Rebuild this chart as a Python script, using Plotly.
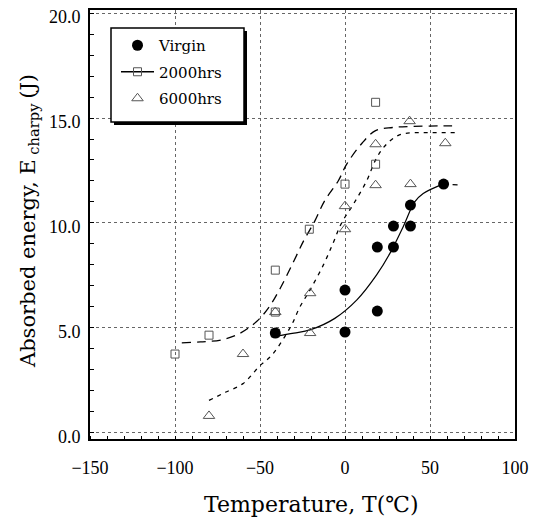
import plotly.graph_objects as go

# ---------------- data ----------------
virgin_T = [-41, 0, 0, 19, 19, 28.5, 28.5, 38.5, 38.5, 58]
virgin_E = [4.75, 6.8, 4.8, 5.8, 8.85, 8.85, 9.85, 9.85, 10.85, 11.85]

h2000_T = [-100, -80, -41, -41, -21, 0, 18, 18, -41]
h2000_E = [3.75, 4.65, 5.75, 7.75, 9.7, 11.85, 12.8, 15.75, 4.75]

h6000_T = [-80, -60, -41, -20.5, -20.5, 0, 0, 18, 18, 38, 38.5, 59]
h6000_E = [0.8, 3.75, 5.75, 4.75, 6.65, 9.7, 10.8, 11.8, 13.75, 14.85, 11.85, 13.8]

# fitted curves
virgin_fit_T = [-41, -30, -20.6, -6, 7, 18.6, 26.5, 34.3, 41, 46, 58]
virgin_fit_E = [4.6, 4.75, 4.9, 5.45, 6.33, 7.52, 8.56, 9.83, 11.0, 11.4, 11.86]
virgin_tail_T = [58, 68]
virgin_tail_E = [11.86, 11.8]

h2000_fit_T = [-96, -85, -73, -62, -52, -45, -38, -30, -24, -18, -12, -4, 1, 10, 18, 28, 40, 63]
h2000_fit_E = [4.28, 4.33, 4.42, 4.73, 5.3, 5.95, 6.9, 8.2, 9.2, 10.05, 11.05, 12.0, 12.8, 13.8, 14.4, 14.55, 14.6, 14.63]

h6000_fit_T = [-80, -70, -60, -50, -43, -32, -26.5, -20.6, -12.7, -7, -2, 5, 12.7, 18.6, 24.5, 32, 40, 50, 65]
h6000_fit_E = [1.54, 1.94, 2.34, 3.2, 3.7, 5.05, 6.0, 6.8, 8.0, 9.04, 10.0, 10.9, 12.0, 13.1, 13.76, 14.2, 14.3, 14.3, 14.3]

x_ticks = [-150, -100, -50, 0, 50, 100]
y_ticks = [0, 5, 10, 15, 20]

# ---------------- figure ----------------
OFF = 8                      # default page margin of the html body
W, H = 541 - OFF, 517 - OFF
ML, MR, MT, MB = 90 - OFF, 26, 10 - OFF, 78
PW, PH = W - ML - MR, H - MT - MB

def px(x_ref):
    return (x_ref - OFF - ML) / PW

def py(y_ref):
    return (H - MB - (y_ref - OFF)) / PH

SERIF = "DejaVu Serif"
TICKF = "Liberation Serif"
GRAY = "#555555"

fig = go.Figure()

# curves
fig.add_trace(go.Scatter(x=h2000_fit_T, y=h2000_fit_E, mode="lines", line_shape="spline",
                         line=dict(color="black", width=1.3, dash="9px,6px"), showlegend=False))
fig.add_trace(go.Scatter(x=h6000_fit_T, y=h6000_fit_E, mode="lines", line_shape="spline",
                         line=dict(color="black", width=1.3, dash="4px,5px"), showlegend=False))
fig.add_trace(go.Scatter(x=virgin_fit_T, y=virgin_fit_E, mode="lines", line_shape="spline",
                         line=dict(color="black", width=1.2), showlegend=False))
fig.add_trace(go.Scatter(x=virgin_tail_T, y=virgin_tail_E, mode="lines",
                         line=dict(color="black", width=1.2, dash="5px,4px"), showlegend=False))

# markers
fig.add_trace(go.Scatter(x=h2000_T, y=h2000_E, mode="markers", showlegend=False,
                         marker=dict(symbol="square-open", size=8, color=GRAY, line=dict(width=1))))
fig.add_trace(go.Scatter(x=h6000_T, y=h6000_E, mode="markers", showlegend=False,
                         marker=dict(symbol="triangle-up-open", size=10, color=GRAY, line=dict(width=1))))
fig.add_trace(go.Scatter(x=virgin_T, y=virgin_E, mode="markers", name="Virgin", legendgroup="a",
                         marker=dict(symbol="circle", size=11, color="black")))

# legend entries
fig.add_trace(go.Scatter(x=[None], y=[None], mode="lines+markers", name="2000hrs", legendgroup="b",
                         line=dict(color="black", width=1.5),
                         marker=dict(symbol="square-open", size=8, color=GRAY, line=dict(width=1))))
fig.add_trace(go.Scatter(x=[None], y=[None], mode="markers", name="6000hrs", legendgroup="c",
                         marker=dict(symbol="triangle-up-open", size=10, color=GRAY, line=dict(width=1))))

# legend box with shadow
shapes = [
    dict(type="rect", xref="paper", yref="paper", x0=px(114), x1=px(247), y0=py(125), y1=py(31),
         fillcolor="black", line=dict(width=0), layer="above"),
    dict(type="rect", xref="paper", yref="paper", x0=px(111), x1=px(244), y0=py(122), y1=py(28),
         fillcolor="white", line=dict(color="black", width=1.5), layer="above"),
]

annotations = [
    dict(text="Absorbed energy, E<sub> charpy </sub>(J)", xref="paper", yref="paper",
         x=px(29), y=py(221), textangle=-90, showarrow=False, xanchor="center", yanchor="middle",
         font=dict(family=SERIF, size=21, color="black")),
    dict(text="Temperature, T(℃)", xref="paper", yref="paper",
         x=px(311), y=py(504), showarrow=False, xanchor="center", yanchor="middle",
         font=dict(family=SERIF, size=22, color="black")),
]

fig.update_layout(
    width=W, height=H,
    margin=dict(l=ML, r=MR, t=MT, b=MB, autoexpand=False),
    paper_bgcolor="white", plot_bgcolor="white",
    shapes=shapes, annotations=annotations,
    legend=dict(x=px(116), y=py(29), xanchor="left", yanchor="top",
                bgcolor="rgba(0,0,0,0)", borderwidth=0, itemwidth=33,
                font=dict(family=SERIF, size=15, color="black"),
                tracegroupgap=4),
)

fig.update_xaxes(range=[-150, 100], tickvals=x_ticks, ticktext=[f"{v}".replace("-", "−") for v in x_ticks],
                 showgrid=True, gridcolor="#666666", griddash="dot", gridwidth=1, automargin=False,
                 showline=True, linecolor="black", linewidth=2, mirror=True,
                 ticks="", zeroline=False, ticklabelstandoff=11, ticklabeloverflow="allow",
                 tickfont=dict(family=TICKF, size=18, color="black"),
                 minor=dict(dtick=10, tick0=0, ticks="inside", ticklen=3, tickcolor="black", showgrid=False))
fig.update_yaxes(range=[-0.3, 20.15], tickvals=y_ticks, ticktext=[f"{v:.1f}" for v in y_ticks],
                 showgrid=True, gridcolor="#666666", griddash="dot", gridwidth=1, automargin=False,
                 showline=True, linecolor="black", linewidth=2, mirror=True,
                 ticks="", zeroline=False, ticklabelstandoff=4, ticklabeloverflow="allow",
                 ticklabelshift=4,
                 tickfont=dict(family=TICKF, size=18, color="black"),
                 minor=dict(dtick=1, tick0=0, ticks="inside", ticklen=4, tickcolor="black", showgrid=False))

fig.write_html("out.html")
